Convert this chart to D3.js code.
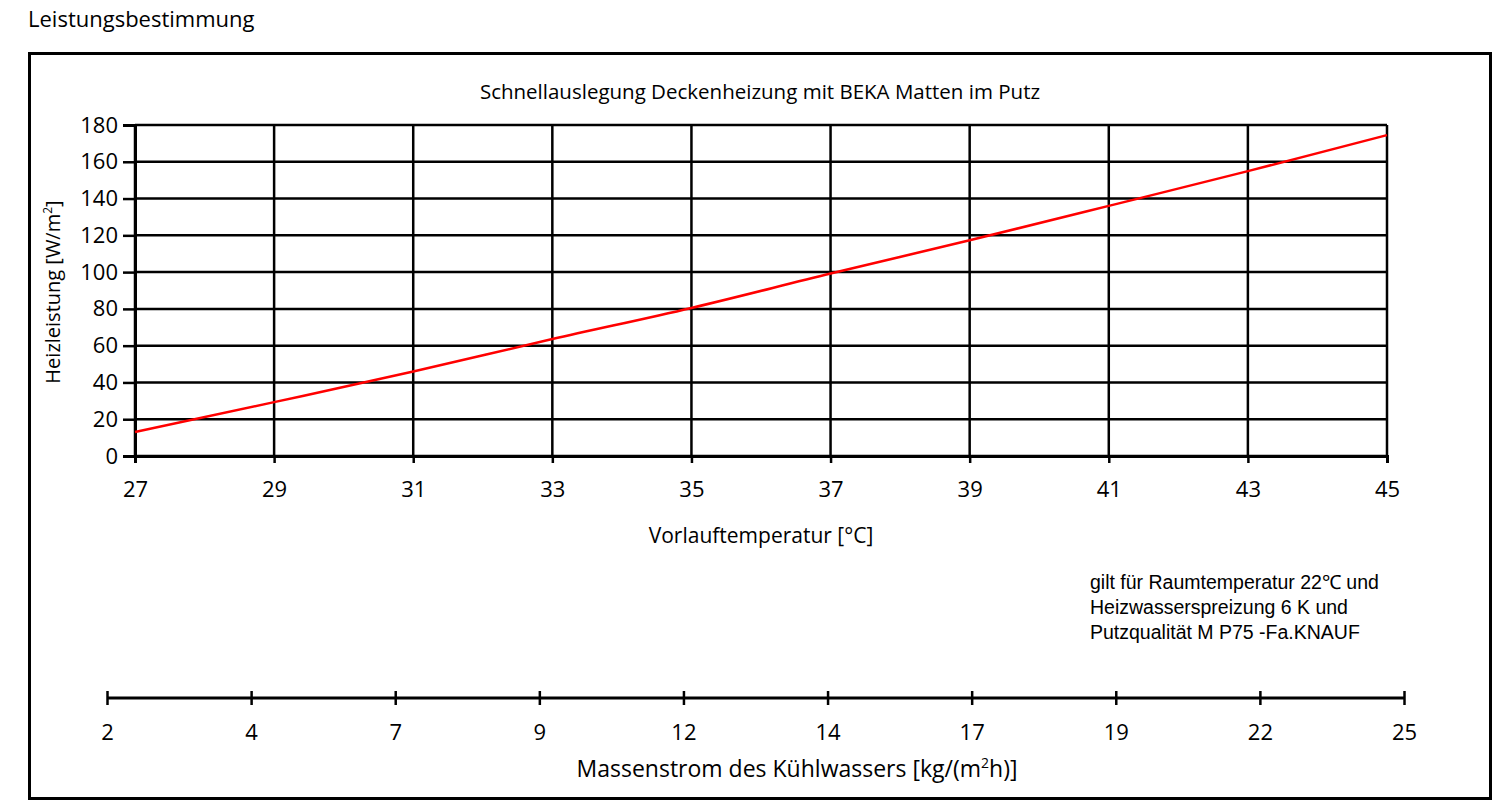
<!DOCTYPE html>
<html>
<head>
<meta charset="utf-8">
<script src="https://cdn.jsdelivr.net/npm/d3@7"></script>
<style>
  body { margin: 0; background: #fff; }
  text { font-family: "Open Sans", "Noto Sans", sans-serif; fill: #000; }
</style>
</head>
<body>
<svg id="chart" width="1501" height="806"></svg>
<script>
// temperatures (x) and heating output (y)
var temps = [27, 29, 31, 33, 35, 37, 39, 41, 43, 45];
var output = [13, 29.3, 45.9, 63.6, 80.5, 99.2, 117.3, 136, 154.9, 174.5];
var yTicks = [0, 20, 40, 60, 80, 100, 120, 140, 160, 180];
// second scale: mass flow, labels as printed
var massFlow = ["2", "4", "7", "9", "12", "14", "17", "19", "22", "25"];
var notes = ["gilt für Raumtemperatur 22℃ und",
             "Heizwasserspreizung 6 K und",
             "Putzqualität M P75 -Fa.KNAUF"];

var svg = d3.select("#chart"),
    margin = {top: 125, left: 135},
    width = 1252,
    height = 331,
    g = svg.append("g").attr("transform", "translate(" + margin.left + "," + margin.top + ")");

// heading above the frame
svg.append("text")
    .attr("x", 28)
    .attr("y", 27)
    .style("font-size", "22px")
    .text("Leistungsbestimmung");

// outer frame
svg.append("rect")
    .attr("x", 29.5)
    .attr("y", 53.5)
    .attr("width", 1461)
    .attr("height", 745)
    .attr("fill", "none")
    .attr("stroke", "#000")
    .attr("stroke-width", 3);

svg.append("text")
    .attr("x", 760)
    .attr("y", 99)
    .attr("text-anchor", "middle")
    .style("font-size", "20.5px")
    .text("Schnellauslegung Deckenheizung mit BEKA Matten im Putz");

var x = d3.scaleLinear().domain([27, 45]).range([0, width]);
var y = d3.scaleLinear().domain([0, 180]).range([height, 0]);

// grid
g.append("g")
    .selectAll("line")
    .data(yTicks)
    .enter().append("line")
      .attr("x1", 0)
      .attr("x2", width)
      .attr("y1", function(d) { return y(d); })
      .attr("y2", function(d) { return y(d); })
      .attr("stroke", "#000")
      .attr("stroke-width", 2.5);

g.append("g")
    .selectAll("line")
    .data(temps)
    .enter().append("line")
      .attr("x1", function(d) { return x(d); })
      .attr("x2", function(d) { return x(d); })
      .attr("y1", 0)
      .attr("y2", height)
      .attr("stroke", "#000")
      .attr("stroke-width", 2.5);

// axes
var yAxis = g.append("g")
    .call(d3.axisLeft(y).tickValues(yTicks).tickSize(12).tickPadding(5));
var xAxis = g.append("g")
    .attr("transform", "translate(0," + height + ")")
    .call(d3.axisBottom(x).tickValues(temps).tickSize(7).tickPadding(18));

[yAxis, xAxis].forEach(function(a) {
  a.select(".domain").attr("stroke-width", 3);
  a.selectAll(".tick line").attr("stroke-width", 2.5);
  a.selectAll(".tick text")
      .style("font-size", "22px")
      .style("font-family", "'Open Sans', 'Noto Sans', sans-serif");
});

// curve
g.append("path")
    .datum(d3.zip(temps, output))
    .attr("fill", "none")
    .attr("stroke", "#ff0000")
    .attr("stroke-width", 2.5)
    .attr("d", d3.line()
      .x(function(d) { return x(d[0]); })
      .y(function(d) { return y(d[1]); })
      .curve(d3.curveMonotoneX));

// axis titles
var yTitle = svg.append("text")
    .attr("transform", "translate(60,292) rotate(-90)")
    .attr("text-anchor", "middle")
    .style("font-size", "20px");
yTitle.append("tspan").text("Heizleistung [W/m");
yTitle.append("tspan").attr("dy", -8).style("font-size", "12px").text("2");
yTitle.append("tspan").attr("dy", 8).text("]");

svg.append("text")
    .attr("x", 761)
    .attr("y", 543)
    .attr("text-anchor", "middle")
    .style("font-size", "21px")
    .text("Vorlauftemperatur [°C]");

// note
svg.append("g")
    .selectAll("text")
    .data(notes)
    .enter().append("text")
      .attr("x", 1090)
      .attr("y", function(d, i) { return 589 + i * 25; })
      .style("font-family", "'Liberation Sans', Arial, sans-serif")
      .style("font-size", "19.5px")
      .text(function(d) { return d; });

// mass flow scale
var m = d3.scalePoint().domain(massFlow).range([107, 1404]);
var mAxis = svg.append("g")
    .attr("transform", "translate(0,698)")
    .call(d3.axisBottom(m).tickSize(6).tickPadding(20));
mAxis.select(".domain").attr("d", "M107,0H1404").attr("stroke-width", 3);
mAxis.selectAll(".tick line").attr("y1", -7).attr("y2", 7).attr("stroke-width", 2.5);
mAxis.selectAll(".tick text")
    .style("font-size", "22px")
    .style("font-family", "'Open Sans', 'Noto Sans', sans-serif");

var mTitle = svg.append("text")
    .attr("x", 797)
    .attr("y", 777)
    .attr("text-anchor", "middle")
    .style("font-size", "23px");
mTitle.append("tspan").text("Massenstrom des Kühlwassers [kg/(m");
mTitle.append("tspan").attr("dy", -9).style("font-size", "14px").text("2");
mTitle.append("tspan").attr("dy", 9).text("h)]");
</script>
</body>
</html>
